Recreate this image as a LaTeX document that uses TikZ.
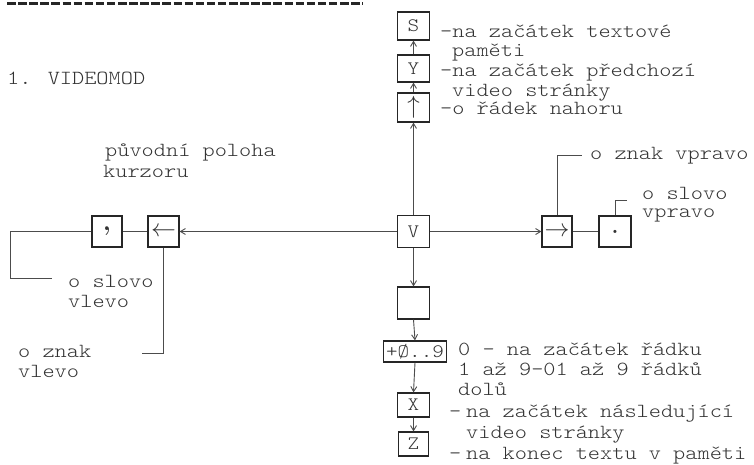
\documentclass[tikz,border=0pt]{standalone}
\usepackage{fontspec}
\newfontfamily\tw{lmmonolt10-regular.otf}[FakeStretch=1.16]
\usetikzlibrary{arrows.meta}
\begin{document}
\begin{tikzpicture}[x=1pt,y=-1pt,
  box/.style={draw=black!85,line width=1.2pt,minimum width=32pt,minimum height=29pt,inner sep=0pt,font=\tw\fontsize{19}{20}\selectfont,text=black!80},
  txt/.style={anchor=base west,inner sep=0pt,font=\tw\fontsize{20}{24}\selectfont,text=black!80},
  con/.style={draw=black!70,line width=0.9pt},
  arr/.style={con,-{Straight Barb[length=5pt,width=6pt]}},
  bigsym/.style={font=\fontsize{26}{26}\selectfont}]
\useasboundingbox[fill=white] (0,0) rectangle (754,464);
% top rule
\draw[black!85,line width=3pt,dash pattern=on 8.5pt off 2.6pt] (7,3.5) -- (363,3.5);
% boxes
\node[box,minimum height=28pt] (S) at (413.5,26) {S};
\node[box,minimum height=27pt] (Y) at (413.5,68.5) {Y};
\node[box,bigsym] (U) at (413.5,107.5) {$\uparrow$};
\node[box,minimum height=32pt] (V) at (413.5,231.5) {V};
\node[box,minimum height=32pt] (E) at (413.5,303) {};
\node[box,minimum width=63pt,minimum height=21pt] (N) at (415,351.5) {+Ø..9};
\node[box,minimum height=24pt] (X) at (413.5,405) {X};
\node[box,minimum height=24pt,minimum width=30pt] (Z) at (413.5,444) {Z};
\node[box,minimum width=30pt,minimum height=31pt,font=\normalfont\bfseries\fontsize{26}{26}\selectfont] (C) at (107,231.5) {,};
\node[box,bigsym,minimum width=31pt,minimum height=31pt] (L) at (163.5,231.5) {$\leftarrow$};
\node[box,bigsym,minimum width=30pt,minimum height=31pt] (R) at (557,231.5) {$\rightarrow$};
\node[box,minimum width=32pt,minimum height=31pt,font=\normalfont\bfseries\fontsize{22}{22}\selectfont] (D) at (615,231.5) {.};
% connectors
\draw[arr] (V.north) -- (U.south);
\draw[arr] (U.north) -- (Y.south);
\draw[arr] (Y.north) -- (S.south);
\draw[arr] (V.west) -- (L.east);
\draw[arr] (V.east) -- (R.west);
\draw[con] (L.west) -- (C.east);
\draw[con] (R.east) -- (D.west);
\draw[arr] (V.south) -- (E.north);
\draw[arr] (E.south) -- (N.north);
\draw[arr] (N.south) -- (X.north);
\draw[arr] (X.south) -- (Z.north);
% label leaders
\coordinate (c1) at (10,278);
\coordinate (c1e) at (52,278);
\coordinate (c2) at (142,353);
\coordinate (c3) at (582,155);
\coordinate (c4) at (627,200);
\draw[con] (C.west) -| (c1) -- (c1e);
\draw[con] (L.south) |- (c2);
\draw[con] (R.north) |- (c3);
\draw[con] (D.north) |- (c4);
% texts
\node[txt] (t1) at (440,37) {-na začátek textové};
\node[txt] (t2) at (452,56) {paměti};
\node[txt] (t3) at (440,76) {-na začátek předchozí};
\node[txt] (t4) at (452,96) {video stránky};
\node[txt] (t5) at (440,114) {-o řádek nahoru};
\node[txt] (t6) at (7,84) {1. VIDEOMOD};
\node[txt] (t7) at (105,156) {původní poloha};
\node[txt] (t8) at (103,177) {kurzoru};
\node[txt] (t9) at (590,159) {o znak vpravo};
\node[txt] (t10) at (642,199) {o slovo};
\node[txt] (t11) at (642,217) {vpravo};
\node[txt] (t12) at (68,287) {o slovo};
\node[txt] (t13) at (68,307) {vlevo};
\node[txt] (t14) at (18,357) {o znak};
\node[txt] (t15) at (18,377) {vlevo};
\node[txt] (t16) at (458,355) {0 - na začátek řádku};
\node[txt] (t17) at (458,375) {1 až 9-01 až 9 řádků};
\node[txt] (t18) at (458,395) {dolů};
\node[txt] (t19) at (449,417) {-};
\node[txt] (t20) at (466,417) {na začátek následující};
\node[txt] (t21) at (466,438) {video stránky};
\node[txt] (t22) at (449,459) {-};
\node[txt] (t23) at (466,459) {na konec textu v paměti};
\end{tikzpicture}
\end{document}
